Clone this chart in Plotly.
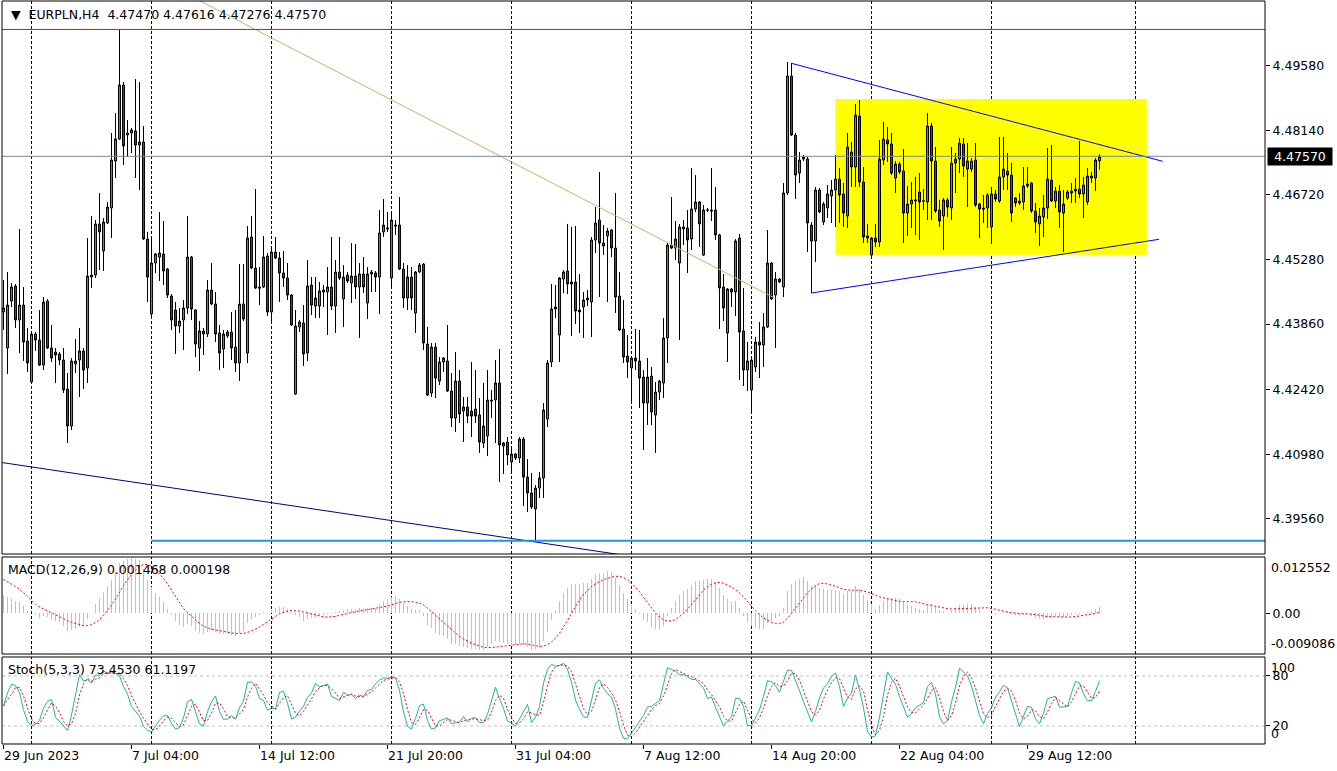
import numpy as np
import plotly.graph_objects as go

# ---------------- data (EURPLN H4, bar index 0 = 29 Jun 2023 20:00) ----------------
opens = [
4.44128, 4.43331, 4.44371, 4.44702, 4.43951, 4.44282, 4.43486, 4.42580, 4.43642, 4.43508,
4.42955, 4.44371, 4.43331, 4.43243, 4.43199, 4.43066, 4.42425, 4.41607, 4.42978, 4.43066,
4.43265, 4.42889, 4.44901, 4.44945, 4.46074, 4.45476, 4.46096, 4.46427, 4.47466, 4.47953,
4.49146, 4.48041, 4.48086, 4.48130, 4.47820, 4.47887, 4.45742, 4.44084, 4.45211, 4.45343,
4.45410, 4.45078, 4.44481, 4.44172, 4.43818, 4.43951, 4.44216, 4.45343, 4.44172, 4.43331,
4.43708, 4.43642, 4.44614, 4.44305, 4.43664, 4.43309, 4.43597, 4.43686, 4.43353, 4.43000,
4.44305, 4.43221, 4.45786, 4.45100, 4.44680, 4.44680, 4.45365, 4.44128, 4.45454, 4.45321,
4.44990, 4.44879, 4.44503, 4.42314, 4.43796, 4.43885, 4.43221, 4.44724, 4.44260, 4.44260,
4.44570, 4.44570, 4.44680, 4.44260, 4.45012, 4.44415, 4.44945, 4.44769, 4.44923, 4.44680,
4.44968, 4.44327, 4.44968, 4.44990, 4.44901, 4.45897, 4.45963, 4.44879, 4.46051, 4.46051,
4.45078, 4.44437, 4.44901, 4.44106, 4.45012, 4.45189, 4.43420, 4.42337, 4.43353, 4.42602,
4.43022, 4.43044, 4.42381, 4.41784, 4.42602, 4.41939, 4.42027, 4.41939, 4.41983, 4.41850,
4.41231, 4.41385, 4.42182, 4.42182, 4.42558, 4.41164, 4.41253, 4.40811, 4.40988, 4.40899,
4.41319, 4.40479, 4.40126, 4.39772, 4.40236, 4.40457, 4.41762, 4.43022, 4.44238, 4.43619,
4.44857, 4.45034, 4.44747, 4.44791, 4.44172, 4.44238, 4.44393, 4.44349, 4.45720, 4.46162,
4.45653, 4.45808, 4.45941, 4.45542, 4.44481, 4.43752, 4.43154, 4.42889, 4.43110, 4.43044,
4.42690, 4.42116, 4.42712, 4.41850, 4.42359, 4.42558, 4.43553, 4.45609, 4.45542, 4.45211,
4.46007, 4.45985, 4.45742, 4.46405, 4.46560, 4.45387, 4.46383, 4.46383, 4.46383, 4.45831,
4.44680, 4.43664, 4.44636, 4.44570, 4.45764, 4.43708, 4.42845, 4.42403, 4.42911, 4.43464,
4.43398, 4.43796, 4.45211, 4.44503, 4.44857, 4.44680, 4.46759, 4.49346, 4.48041, 4.47200,
4.47555, 4.47510, 4.46051, 4.45698, 4.46825, 4.46118, 4.46427, 4.46693, 4.46825, 4.47068,
4.46737, 4.46250, 4.47665, 4.47333, 4.48461, 4.47002, 4.45808, 4.45387, 4.45764, 4.45676,
4.47488, 4.47931, 4.47843, 4.47090, 4.47400, 4.47245, 4.46317, 4.46516, 4.46582, 4.46781,
4.46582, 4.46560, 4.48240, 4.47466, 4.46383, 4.46250, 4.46604, 4.46427, 4.47422, 4.47510,
4.47843, 4.47289, 4.47289, 4.47488, 4.46516, 4.46427, 4.46427, 4.46007, 4.46737, 4.46582,
4.47113, 4.47245, 4.47156, 4.46648, 4.46538, 4.46560, 4.46958, 4.46980, 4.46361, 4.46074,
4.46228, 4.46427, 4.47046, 4.46582, 4.46803, 4.46317, 4.46648, 4.46759, 4.46803, 4.46847,
4.46737, 4.46560, 4.47090, 4.47090, 4.47470]

highs = [
4.44835, 4.45012, 4.44769, 4.44747, 4.45963, 4.44680, 4.43774, 4.43686, 4.43686, 4.44172,
4.44459, 4.44415, 4.43840, 4.43331, 4.43243, 4.43331, 4.42779, 4.43110, 4.43530, 4.43774,
4.43331, 4.45764, 4.46250, 4.46162, 4.46759, 4.46206, 4.46560, 4.48086, 4.48528, 4.50363,
4.49213, 4.48373, 4.48196, 4.49279, 4.49213, 4.48240, 4.45897, 4.45764, 4.45432, 4.46339,
4.46140, 4.45100, 4.44525, 4.44349, 4.44216, 4.44393, 4.46250, 4.45365, 4.44194, 4.43929,
4.43774, 4.44835, 4.45211, 4.44570, 4.43840, 4.43730, 4.43730, 4.44128, 4.44172, 4.45189,
4.45189, 4.46029, 4.46250, 4.46847, 4.45122, 4.45808, 4.45432, 4.45587, 4.45786, 4.45454,
4.45476, 4.45211, 4.44525, 4.44172, 4.43951, 4.44282, 4.45277, 4.44901, 4.44901, 4.44791,
4.44724, 4.45122, 4.45786, 4.45277, 4.45786, 4.45166, 4.45012, 4.45653, 4.45632, 4.45211,
4.45343, 4.45122, 4.45056, 4.45034, 4.46383, 4.46626, 4.46339, 4.46317, 4.46162, 4.46670,
4.45211, 4.45166, 4.45122, 4.45034, 4.45211, 4.45211, 4.43796, 4.43442, 4.43442, 4.43132,
4.43132, 4.43840, 4.42779, 4.43243, 4.42845, 4.42248, 4.42248, 4.43022, 4.42845, 4.42226,
4.42558, 4.42845, 4.42403, 4.43066, 4.43309, 4.41253, 4.41363, 4.41164, 4.41010, 4.41363,
4.41363, 4.40877, 4.40568, 4.40302, 4.40590, 4.42116, 4.43066, 4.44747, 4.44724, 4.44901,
4.45056, 4.46074, 4.46007, 4.46029, 4.44968, 4.44570, 4.44614, 4.45786, 4.46449, 4.47223,
4.46051, 4.45985, 4.45963, 4.46759, 4.45012, 4.44393, 4.43619, 4.43132, 4.43752, 4.43730,
4.42845, 4.43110, 4.42911, 4.42580, 4.42624, 4.43996, 4.45653, 4.46670, 4.46140, 4.46074,
4.46162, 4.46383, 4.47311, 4.47156, 4.46582, 4.46493, 4.46427, 4.47311, 4.46892, 4.45853,
4.44968, 4.44658, 4.44658, 4.45742, 4.45853, 4.44658, 4.43464, 4.43088, 4.43575, 4.43907,
4.44106, 4.45941, 4.45233, 4.45012, 4.44879, 4.46980, 4.49656, 4.49634, 4.48086, 4.47665,
4.47599, 4.47555, 4.46118, 4.46892, 4.46869, 4.46560, 4.46936, 4.47046, 4.47599, 4.47311,
4.46980, 4.48086, 4.47887, 4.48727, 4.48815, 4.47333, 4.46074, 4.45786, 4.46074, 4.47931,
4.48329, 4.48218, 4.48086, 4.47466, 4.47444, 4.47732, 4.46914, 4.47002, 4.47113, 4.47200,
4.46847, 4.48528, 4.48307, 4.47776, 4.46604, 4.46648, 4.46648, 4.47776, 4.47644, 4.47975,
4.47975, 4.47865, 4.47532, 4.47865, 4.46538, 4.46715, 4.46759, 4.46892, 4.46825, 4.47997,
4.47997, 4.47644, 4.47422, 4.46670, 4.46759, 4.47333, 4.47333, 4.47002, 4.46538, 4.46427,
4.46715, 4.47753, 4.47820, 4.46892, 4.46936, 4.46825, 4.46825, 4.46980, 4.47090, 4.47909,
4.47113, 4.47311, 4.47223, 4.47532, 4.47616]

lows = [
4.43730, 4.42757, 4.44238, 4.43774, 4.43221, 4.43044, 4.42801, 4.42580, 4.43265, 4.42933,
4.42845, 4.43309, 4.43022, 4.42558, 4.42955, 4.42337, 4.41231, 4.41518, 4.42779, 4.42248,
4.42425, 4.42558, 4.44658, 4.44879, 4.45056, 4.45034, 4.46074, 4.45764, 4.47090, 4.47931,
4.47378, 4.47555, 4.47644, 4.47090, 4.46825, 4.45720, 4.44349, 4.44039, 4.44990, 4.44813,
4.44724, 4.44437, 4.43730, 4.43199, 4.43664, 4.43287, 4.44084, 4.43951, 4.43132, 4.42823,
4.43176, 4.43575, 4.44282, 4.43464, 4.42845, 4.42889, 4.43553, 4.43066, 4.42801, 4.42602,
4.43929, 4.43000, 4.45078, 4.44636, 4.44282, 4.44658, 4.44039, 4.43885, 4.45299, 4.44349,
4.44680, 4.44393, 4.43818, 4.42292, 4.43686, 4.42933, 4.43044, 4.44061, 4.43996, 4.43996,
4.44238, 4.43619, 4.44172, 4.43664, 4.44835, 4.43796, 4.44769, 4.44327, 4.44415, 4.43553,
4.44548, 4.43973, 4.44570, 4.44570, 4.44084, 4.45786, 4.45897, 4.44658, 4.45831, 4.45056,
4.44216, 4.44172, 4.44172, 4.43664, 4.44990, 4.43287, 4.42270, 4.42248, 4.42226, 4.42513,
4.42801, 4.42359, 4.41585, 4.41474, 4.41674, 4.41253, 4.41674, 4.41363, 4.41674, 4.41010,
4.41120, 4.40943, 4.41784, 4.41231, 4.40369, 4.40546, 4.40744, 4.40590, 4.40855, 4.40789,
4.39838, 4.39706, 4.39772, 4.39042, 4.40015, 4.40015, 4.41585, 4.42911, 4.43996, 4.43022,
4.44548, 4.44525, 4.43597, 4.43863, 4.43664, 4.43553, 4.44260, 4.43575, 4.45432, 4.44459,
4.45387, 4.44349, 4.45343, 4.44106, 4.43708, 4.43000, 4.42668, 4.42160, 4.42845, 4.42005,
4.41076, 4.41629, 4.41629, 4.41010, 4.42182, 4.42226, 4.43000, 4.45520, 4.45277, 4.43508,
4.45609, 4.44990, 4.45498, 4.46339, 4.45565, 4.45365, 4.46339, 4.46140, 4.45720, 4.43752,
4.43929, 4.43022, 4.44238, 4.44039, 4.42624, 4.42491, 4.42381, 4.41917, 4.42801, 4.42668,
4.42911, 4.43774, 4.44393, 4.43331, 4.44769, 4.44459, 4.46715, 4.48019, 4.46626, 4.46980,
4.47466, 4.45454, 4.44548, 4.45233, 4.46317, 4.46051, 4.46206, 4.46096, 4.46007, 4.46096,
4.46007, 4.45985, 4.46892, 4.46892, 4.46892, 4.45653, 4.45653, 4.45365, 4.45565, 4.45565,
4.47378, 4.47444, 4.47156, 4.46759, 4.47178, 4.45653, 4.45808, 4.45985, 4.45831, 4.45720,
4.46383, 4.46162, 4.46162, 4.46317, 4.46007, 4.45498, 4.46228, 4.46162, 4.46759, 4.47200,
4.47113, 4.46449, 4.47223, 4.46449, 4.45764, 4.46096, 4.45985, 4.45632, 4.46560, 4.46538,
4.46825, 4.46825, 4.46118, 4.46449, 4.46493, 4.46383, 4.46869, 4.46317, 4.45875, 4.45587,
4.45786, 4.46184, 4.46560, 4.46427, 4.45985, 4.45454, 4.46604, 4.46538, 4.46538, 4.46648,
4.46206, 4.46493, 4.46980, 4.46803, 4.47276]

closes = [
4.44216, 4.44282, 4.44680, 4.43951, 4.44282, 4.43464, 4.43000, 4.43642, 4.43508, 4.42955,
4.44349, 4.43331, 4.43110, 4.43176, 4.43066, 4.42403, 4.41607, 4.43044, 4.43044, 4.43265,
4.42845, 4.44923, 4.44945, 4.46074, 4.45897, 4.46118, 4.46449, 4.47488, 4.47953, 4.49146,
4.47798, 4.48086, 4.48152, 4.47820, 4.47887, 4.45742, 4.44901, 4.45211, 4.45410, 4.45432,
4.45034, 4.44503, 4.43951, 4.43818, 4.43929, 4.44216, 4.45343, 4.44194, 4.43420, 4.43708,
4.43642, 4.44614, 4.44305, 4.43642, 4.43221, 4.43642, 4.43686, 4.43331, 4.43000, 4.44305,
4.43973, 4.45764, 4.45100, 4.44658, 4.44658, 4.45343, 4.44128, 4.45454, 4.45321, 4.44990,
4.44879, 4.44503, 4.43840, 4.43818, 4.43907, 4.43199, 4.44702, 4.44282, 4.44437, 4.44592,
4.44614, 4.44680, 4.44260, 4.45012, 4.44879, 4.44901, 4.44813, 4.44923, 4.44680, 4.44968,
4.44680, 4.44968, 4.45012, 4.44901, 4.45875, 4.46051, 4.45985, 4.46162, 4.46029, 4.45078,
4.44437, 4.44901, 4.44437, 4.45012, 4.45166, 4.43442, 4.42292, 4.43353, 4.42668, 4.43022,
4.43110, 4.42381, 4.41784, 4.42602, 4.41872, 4.42027, 4.41828, 4.41828, 4.41828, 4.41253,
4.41607, 4.42182, 4.42160, 4.42558, 4.41187, 4.41231, 4.40965, 4.40988, 4.40899, 4.41319,
4.40479, 4.40126, 4.39816, 4.40236, 4.40457, 4.41961, 4.43000, 4.44194, 4.44194, 4.44879,
4.45012, 4.44747, 4.44791, 4.44150, 4.44128, 4.44393, 4.44437, 4.45720, 4.46096, 4.45653,
4.45587, 4.45919, 4.45542, 4.44459, 4.43730, 4.43132, 4.43022, 4.43110, 4.43044, 4.42668,
4.42116, 4.42690, 4.41917, 4.42359, 4.42602, 4.43553, 4.45609, 4.45542, 4.45742, 4.46007,
4.45963, 4.45720, 4.46405, 4.46560, 4.46074, 4.46383, 4.46383, 4.46361, 4.45831, 4.44658,
4.44216, 4.44636, 4.44570, 4.45698, 4.43686, 4.42845, 4.43044, 4.43066, 4.43464, 4.43398,
4.43796, 4.45211, 4.44415, 4.44857, 4.44791, 4.46759, 4.49346, 4.48041, 4.47156, 4.47488,
4.47510, 4.46096, 4.45698, 4.46825, 4.46339, 4.46516, 4.46737, 4.46825, 4.47068, 4.46715,
4.46317, 4.47776, 4.47333, 4.48483, 4.47002, 4.45786, 4.45764, 4.45764, 4.45676, 4.47510,
4.47953, 4.47843, 4.47200, 4.47400, 4.47223, 4.46317, 4.46516, 4.46604, 4.46604, 4.46560,
4.46582, 4.48240, 4.47466, 4.46361, 4.46140, 4.46604, 4.46449, 4.47422, 4.47510, 4.47865,
4.47355, 4.47466, 4.47466, 4.46493, 4.46405, 4.46405, 4.46715, 4.46737, 4.46626, 4.47113,
4.47289, 4.47156, 4.46317, 4.46538, 4.46582, 4.46914, 4.46914, 4.46361, 4.46118, 4.46250,
4.46427, 4.47068, 4.46582, 4.46803, 4.46339, 4.46516, 4.46781, 4.46803, 4.46847, 4.46737,
4.46936, 4.47134, 4.47134, 4.47488, 4.47570]

# time axis labels (bar index -> label) and weekly separators
tick_bars = [0, 32, 64, 96, 128, 160, 192, 224, 256]
tick_labels = ["29 Jun 2023", "7 Jul 04:00", "14 Jul 12:00", "21 Jul 20:00", "31 Jul 04:00",
               "7 Aug 12:00", "14 Aug 20:00", "22 Aug 04:00", "29 Aug 12:00"]
week_start_bars = [7, 37, 67, 97, 127, 157, 187, 217, 247, 283]

price_ticks = [4.49580, 4.48140, 4.46720, 4.45280, 4.43860, 4.42420, 4.40980, 4.39560]
price_range = [4.38777, 4.51004]
macd_range = [-0.009086, 0.012552]
stoch_range = [-1.6, 102.8]

# chart objects (anchors: bar index, price)
red_hline = 4.50375
support_hline = {"start_bar": 37, "price": 4.39071}
navy_trend = {"bars": [0, 133], "prices": [4.40794, 4.39042]}
khaki_trend = {"bars": [40, 193], "prices": [4.51424, 4.44426]}
tri_upper = {"bars": [197, 289.8], "prices": [4.49626, 4.47460]}
tri_lower = {"bars": [202, 288.9], "prices": [4.44548, 4.45735]}
yellow_box = {"bars": [208, 285.8], "prices": [4.45395, 4.48837]}

# indicator settings / state before the first visible bar
macd_fast, macd_slow, macd_sig = 12, 26, 9
ema_fast_seed, ema_slow_seed, macd_before = 4.4450, 4.4410, 0.0080
stoch_k, stoch_slow, stoch_d = 5, 3, 3

# ---------------- indicators ----------------
n = len(closes)
c = np.array(closes); h = np.array(highs); l = np.array(lows)
x = np.arange(n)

a_f, a_s = 2.0 / (macd_fast + 1), 2.0 / (macd_slow + 1)
ef = np.empty(n); es = np.empty(n)
ef[0], es[0] = ema_fast_seed, ema_slow_seed
for t in range(1, n):
    ef[t] = ef[t - 1] + a_f * (c[t] - ef[t - 1])
    es[t] = es[t - 1] + a_s * (c[t] - es[t - 1])
macd = ef - es
ext = np.concatenate([np.full(macd_sig - 1, macd_before), macd])
signal = np.array([ext[t:t + macd_sig].mean() for t in range(n)])

hh = np.array([h[max(0, t - stoch_k + 1):t + 1].max() for t in range(n)])
ll = np.array([l[max(0, t - stoch_k + 1):t + 1].min() for t in range(n)])
num = c - ll; den = hh - ll
K = np.array([100 * num[max(0, t - stoch_slow + 1):t + 1].sum() /
              max(den[max(0, t - stoch_slow + 1):t + 1].sum(), 1e-9) for t in range(n)])
D = np.array([K[max(0, t - stoch_d + 1):t + 1].mean() for t in range(n)])

# ---------------- figure ----------------
FONT = "DejaVu Sans"
fig = go.Figure()

fig.add_trace(go.Candlestick(
    x=x, open=opens, high=highs, low=lows, close=closes,
    increasing=dict(line=dict(color="black", width=1), fillcolor="#22C822"),
    decreasing=dict(line=dict(color="black", width=1), fillcolor="#E01515"),
    whiskerwidth=0, xaxis="x", yaxis="y", hoverinfo="skip"))

def line(xs, ys, color, width=1, dash=None, yaxis="y"):
    fig.add_trace(go.Scatter(x=xs, y=ys, mode="lines", xaxis="x", yaxis=yaxis,
                             line=dict(color=color, width=width, dash=dash), hoverinfo="skip"))

# navy trend (ray both ways)
slope = (navy_trend["prices"][1] - navy_trend["prices"][0]) / (navy_trend["bars"][1] - navy_trend["bars"][0])
nb = [-3, 175]
line(nb, [navy_trend["prices"][0] + slope * (b - navy_trend["bars"][0]) for b in nb], "#000080")
line(khaki_trend["bars"], khaki_trend["prices"], "#BDB76B")
line(tri_upper["bars"], tri_upper["prices"], "#0000FF")
line(tri_lower["bars"], tri_lower["prices"], "#0000FF")
line([support_hline["start_bar"], 330], [support_hline["price"]] * 2, "#1E90FF", width=2)

# MACD
fig.add_trace(go.Bar(x=x, y=macd, width=0.3, marker=dict(color="#C0C0C0", line=dict(width=0)),
                     xaxis="x", yaxis="y2", hoverinfo="skip"))
line(x, signal, "#FF0000", 1, "2px,2px", "y2")
# Stochastic
line(x, K, "#20B2AA", 1, None, "y3")
line(x, D, "#FF0000", 1, "2px,2px", "y3")

shapes = []
shapes.append(dict(type="rect", xref="x", yref="y", layer="below",
                   x0=yellow_box["bars"][0], x1=yellow_box["bars"][1],
                   y0=yellow_box["prices"][0], y1=yellow_box["prices"][1],
                   fillcolor="#FFFF00", line=dict(width=0)))
for yr in ["y domain", "y2 domain", "y3 domain"]:
    for b in week_start_bars:
        shapes.append(dict(type="line", xref="x", yref=yr, x0=b, x1=b, y0=0, y1=1, layer="below",
                           line=dict(color="black", width=1, dash="3px,2px")))
for lvl in [20, 80]:
    shapes.append(dict(type="line", xref="paper", yref="y3", x0=0, x1=1, y0=lvl, y1=lvl, layer="below",
                       line=dict(color="#C0C0C0", width=1, dash="3px,3px")))
shapes.append(dict(type="line", xref="paper", yref="y", x0=0, x1=1, y0=red_hline, y1=red_hline,
                   line=dict(color="#FF0000", width=1)))
shapes.append(dict(type="line", xref="paper", yref="y", x0=0, x1=1, y0=closes[-1], y1=closes[-1],
                   line=dict(color="#778899", width=1)))
for yr in ["y domain", "y2 domain", "y3 domain"]:
    shapes.append(dict(type="rect", xref="paper", yref=yr, x0=0, x1=1, y0=0, y1=1,
                       line=dict(color="black", width=1), fillcolor="rgba(0,0,0,0)"))

ann = []
ann.append(dict(xref="paper", yref="y domain", x=0, y=1, xanchor="left", yanchor="top", xshift=7, yshift=-4,
                text=f"▼  EURPLN,H4  {opens[-1]:.5f} {highs[-1]:.5f} {lows[-1]:.5f} {closes[-1]:.5f}",
                showarrow=False, font=dict(family=FONT, size=12.5, color="black")))
ann.append(dict(xref="paper", yref="y2 domain", x=0, y=1, xanchor="left", yanchor="top", xshift=4, yshift=-3,
                text="MACD(12,26,9) 0.001468 0.000198", showarrow=False,
                font=dict(family=FONT, size=12.5, color="black")))
ann.append(dict(xref="paper", yref="y3 domain", x=0, y=1, xanchor="left", yanchor="top", xshift=4, yshift=-3,
                text="Stoch(5,3,3) 73.4530 61.1197", showarrow=False,
                font=dict(family=FONT, size=12.5, color="black")))
ann.append(dict(xref="paper", yref="y", x=1, y=closes[-1], xanchor="left", yanchor="middle", xshift=2,
                text=f"{closes[-1]:.5f}", showarrow=False, bgcolor="black", borderpad=1, width=62,
                align="center", font=dict(family=FONT, size=12.5, color="white")))
for txt, yr, yv, anc in [(f"{macd_range[1]:.6f}", "y2 domain", 1, "top"),
                         (f"{macd_range[0]:.6f}", "y2 domain", 0, "bottom"),
                         ("100", "y3 domain", 1, "top"), ("0", "y3 domain", 0, "bottom")]:
    ann.append(dict(xref="paper", yref=yr, x=1, y=yv, xanchor="left", yanchor=anc, xshift=4,
                    yshift=-1 if anc == "top" else 1, text=txt, showarrow=False,
                    font=dict(family=FONT, size=12.5, color="black")))

axfont = dict(family=FONT, size=12.5, color="black")
fig.update_layout(
    width=1337, height=771, margin=dict(l=2, r=72, t=1, b=27, pad=0),
    paper_bgcolor="white", plot_bgcolor="white", showlegend=False, bargap=0,
    shapes=shapes, annotations=ann, hovermode=False,
    xaxis=dict(domain=[0, 1], range=[-0.375, 315.375], anchor="y3", tickmode="array",
               tickvals=tick_bars, ticktext=tick_labels, ticks="outside", ticklen=4, tickcolor="black",
               ticklabelposition="outside right", tickfont=axfont, showgrid=False, zeroline=False,
               showline=False, rangeslider=dict(visible=False), fixedrange=True),
    yaxis=dict(domain=[0.2557, 1], range=price_range, side="right", anchor="x", tickmode="array",
               tickvals=price_ticks, ticktext=[f"{v:.5f}" for v in price_ticks], ticks="outside",
               ticklen=4, tickcolor="black", tickfont=axfont, showgrid=False, zeroline=False,
               showline=False, fixedrange=True),
    yaxis2=dict(domain=[0.1211, 0.2517], range=macd_range, side="right", anchor="x", tickmode="array",
                tickvals=[0], ticktext=["0.00"], ticks="outside", ticklen=4, tickcolor="black",
                tickfont=axfont, showgrid=False, zeroline=False, showline=False, fixedrange=True),
    yaxis3=dict(domain=[0, 0.1171], range=stoch_range, side="right", anchor="x", tickmode="array",
                tickvals=[20, 80], ticktext=["20", "80"], ticks="outside", ticklen=4, tickcolor="black",
                tickfont=axfont, showgrid=False, zeroline=False, showline=False, fixedrange=True),
)

fig.write_html("out.html", config={"displayModeBar": False, "staticPlot": True},
               post_script="document.body.style.margin='0';document.body.style.overflow='hidden';")
